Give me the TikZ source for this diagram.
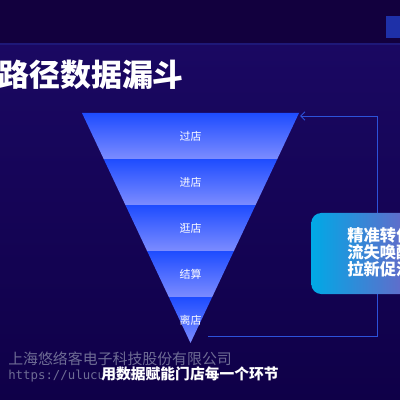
\documentclass[tikz,border=0pt]{standalone}
\usepackage{fontspec}
\setmainfont{Noto Sans CJK SC}
\newfontfamily\markmono{DejaVu Sans Mono}
\usetikzlibrary{arrows.meta,positioning}

\definecolor{bgtop}{HTML}{12003E}
\definecolor{bgmid}{HTML}{1A0862}
\definecolor{bglow}{HTML}{0F0048}
\definecolor{rulecol}{HTML}{1E1878}
\definecolor{tagblue}{HTML}{1E30A8}
\definecolor{funnelhi}{HTML}{1E4CFF}
\definecolor{funnelmid}{HTML}{6476FF}
\definecolor{funnello}{HTML}{7C8CFF}
\definecolor{railblue}{HTML}{2C52DA}
\definecolor{boxleft}{HTML}{00A9E6}
\definecolor{boxright}{HTML}{7E5AC2}
\definecolor{markgray}{HTML}{6E6C94}

\begin{document}
\begin{tikzpicture}[x=0.025cm, y=-0.025cm,
    band/.style={top color=funnelhi, middle color=funnelmid, bottom color=funnello},
    rail/.style={draw=railblue, line width=0.7pt},
    stage/.style={text=white, font=\fontsize{7.8}{9}\selectfont, inner sep=0pt}]
  \useasboundingbox (0,0) rectangle (400,400);
  \clip (0,0) rectangle (400,400);

  % background
  \shade[top color=bgmid, bottom color=bglow] (0,44) rectangle (400,400);
  \fill[bgtop] (0,0) rectangle (400,44);
  \draw[rulecol, line width=1.2pt] (0,44) -- (400,44);
  \fill[tagblue] (386,16) rectangle (400,38);

  % funnel
  \shade[band] (82,113) -- (299,113) -- (277.3,159) -- (103.7,159) -- cycle;
  \shade[band] (103.7,159) -- (277.3,159) -- (255.6,205) -- (125.4,205) -- cycle;
  \shade[band] (125.4,205) -- (255.6,205) -- (233.9,251) -- (147.1,251) -- cycle;
  \shade[band] (147.1,251) -- (233.9,251) -- (212.2,297) -- (168.8,297) -- cycle;
  \shade[band] (168.8,297) -- (212.2,297) -- (190.5,343) -- cycle;

  \coordinate (topright) at (300,116);
  \coordinate (railtop) at (377,116);
  \coordinate (railstart) at (208,336);

  \begin{scope}[every node/.style={stage}]
    \node (pass) at (190.5,136) {过店};
    \node (enter) at (190.5,182) {进店};
    \node (browse) at (190.5,228) {逛店};
    \node (checkout) at (190.5,274) {结算};
    \node (leave) at (190.5,320) {离店};
  \end{scope}

  % feedback loop
  \draw[rail, -{Straight Barb[length=3pt, width=6pt]}]
    (railstart) -| (railtop) -- (topright);

  \node[minimum width=2.95cm, minimum height=2.025cm, rounded corners=0.25cm,
        left color=boxleft, right color=boxright, anchor=west]
    (tacticbox) at (311,253.5) {};
  \node[text=white, align=left, anchor=west, inner sep=0pt,
        font=\bfseries\fontsize{11.6}{12}\selectfont]
    (tactics) at (347,252.5) {精准转化\\流失唤醒\\拉新促活};

  % title and captions
  \node[text=white, anchor=west, inner sep=0pt,
        font=\bfseries\fontsize{22}{26}\selectfont] (title) at (-2,75) {路径数据漏斗};
  \node[text=markgray, anchor=west, inner sep=0pt,
        font=\fontsize{10.6}{12}\selectfont] (mark) at (8,359) {上海悠络客电子科技股份有限公司};
  \node[text=markgray, anchor=west, inner sep=0pt,
        font=\markmono\fontsize{8.8}{10}\selectfont] (url) at (8,376) {https://ulucu.com};
  \node[text=white, inner sep=0pt,
        font=\bfseries\fontsize{10.5}{12}\selectfont] (slogan) at (190,374) {用数据赋能门店每一个环节};
\end{tikzpicture}
\end{document}
